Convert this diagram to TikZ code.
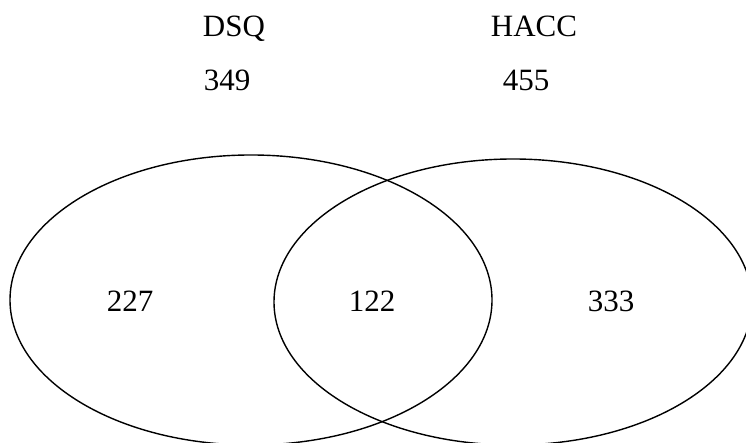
\documentclass[tikz,border=0pt]{standalone}
\usepackage{fontspec}
\setmainfont{Liberation Serif}
\usetikzlibrary{shapes.geometric}
\begin{document}
\begin{tikzpicture}[x=1pt,y=1pt,
  setshape/.style={ellipse,draw=black,line width=1.4pt,inner sep=0pt},
  lbl/.style={font=\fontsize{31}{36}\selectfont,inner sep=0pt,anchor=base}]
\useasboundingbox (0,0) rectangle (746,443);
\clip (0,0) rectangle (746,443);
\node[setshape,minimum width=482pt,minimum height=290pt] (dsq) at (251,143) {};
\node[setshape,minimum width=478pt,minimum height=286pt] (hacc) at (513,141) {};
\node[lbl] (tdsq) at (234,406) {DSQ};
\node[lbl] (thacc) at (534,406) {HACC};
\node[lbl] (ndsq) at (227,352) {349};
\node[lbl] (nhacc) at (526,352) {455};
\node[lbl] (only1) at (130,131) {227};
\node[lbl] (both) at (372,131) {122};
\node[lbl] (only2) at (611,131) {333};
\end{tikzpicture}
\end{document}
